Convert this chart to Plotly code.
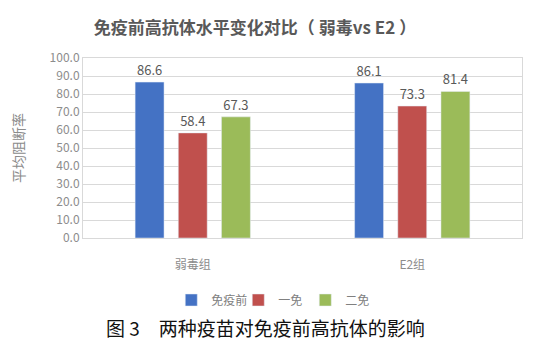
import plotly.graph_objects as go

categories = ["弱毒组", "E2组"]
series_names = ["免疫前", "一免", "二免"]
before = [86.6, 86.1]
first = [58.4, 73.3]
second = [67.3, 81.4]
colors = ["#4472C4", "#C0504D", "#9BBB59"]
y_ticks = [0, 10, 20, 30, 40, 50, 60, 70, 80, 90, 100]

FONT = "Noto Sans CJK SC, Noto Sans, sans-serif"

W, H = 525, 355
L, R, T, B = 75, 11, 50, 125
PW, PH = W - L - R, H - T - B

fig = go.Figure()
for name, vals, col in zip(series_names, [before, first, second], colors):
    fig.add_trace(go.Bar(
        x=categories, y=vals, name=name, marker_color=col,
        text=[f"{v:.1f}" for v in vals], textposition="outside",
        textfont=dict(size=13, color="#595959", family=FONT),
        cliponaxis=False,
    ))

fig.update_layout(
    width=W, height=H,
    margin=dict(l=L, r=R, t=T, b=B, autoexpand=False),
    paper_bgcolor="white", plot_bgcolor="white",
    barmode="group", bargap=0.41, bargroupgap=0.33,
    font=dict(family=FONT, color="#595959"),
    title=dict(text="<b>免疫前高抗体水平变化对比（ 弱毒vs E2 ）</b>",
               x=247 / W, xanchor="center", xref="container", y=1 - 20 / H, yref="container",
               yanchor="middle",
               font=dict(size=17, color="#595959", family=FONT)),
    showlegend=True,
    legend=dict(orientation="h", x=0.43, xanchor="center", y=(T + PH - 292) / PH, yanchor="middle",
                font=dict(size=12, color="#808080", family=FONT),
                itemwidth=30, traceorder="normal", entrywidth=22, entrywidthmode="pixels"),
    yaxis=dict(range=[0, 100], tickvals=y_ticks,
               ticktext=[f"{v:.1f}" for v in y_ticks],
               showgrid=True, gridcolor="#D9D9D9", gridwidth=1,
               tickfont=dict(size=12, color="#8C8C8C"),
               showline=True, linecolor="#D9D9D9", mirror=True, zeroline=False),
    xaxis=dict(tickfont=dict(size=12, color="#8C8C8C"),
               showline=True, linecolor="#D9D9D9", mirror=True, ticks="",
               ticklabelstandoff=16),
)

fig.add_annotation(text="平均阻断率", textangle=-90,
                   xref="paper", yref="paper", x=(10 - L) / PW, y=(T + PH - 140) / PH,
                   xanchor="center", yanchor="middle", showarrow=False,
                   font=dict(size=14, color="#8C8C8C", family=FONT))

fig.add_annotation(text="图 3　两种疫苗对免疫前高抗体的影响",
                   xref="paper", yref="paper", x=(257 - L) / PW, y=(T + PH - 319) / PH,
                   xanchor="center", yanchor="middle", showarrow=False,
                   font=dict(size=19, color="#111111", family=FONT))

fig.write_html("out.html")
